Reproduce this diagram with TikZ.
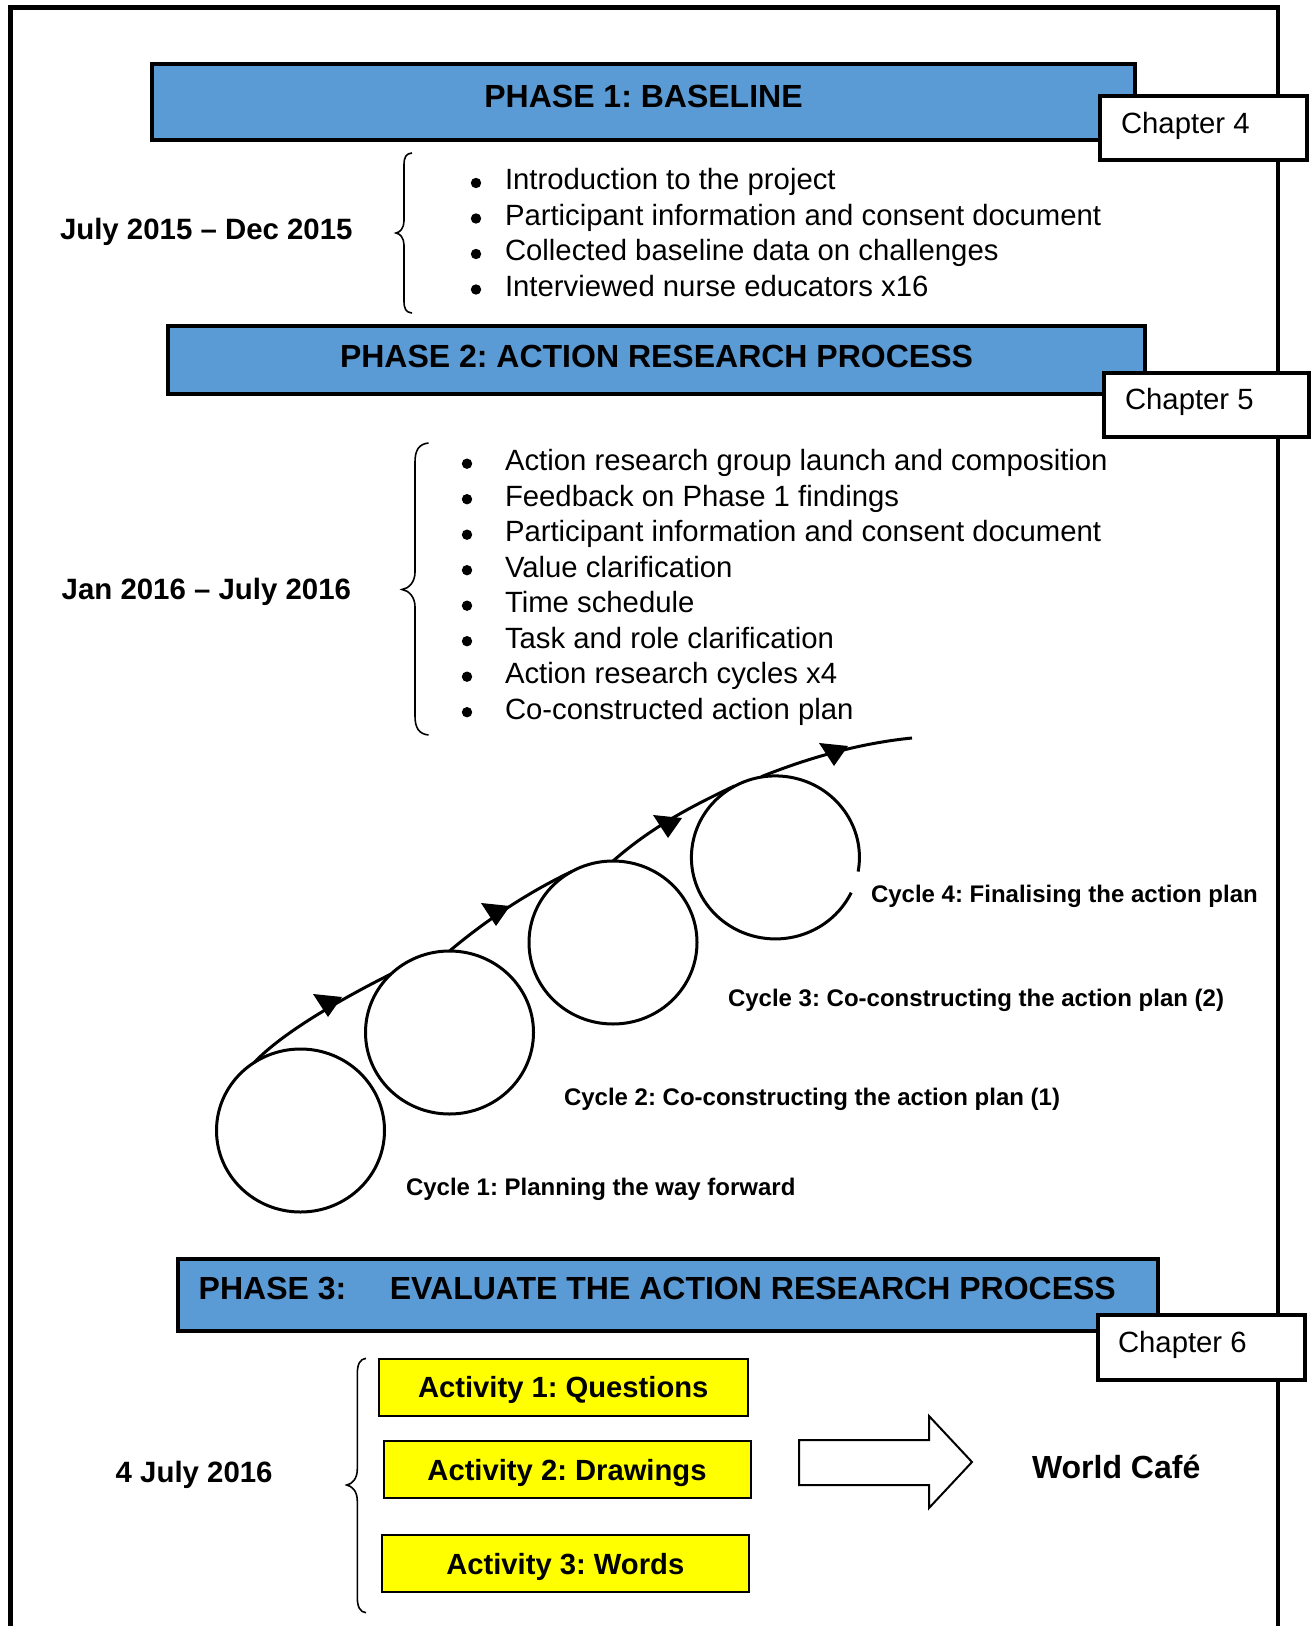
\documentclass[tikz,border=0pt]{standalone}
\usepackage{fontspec}
\setmainfont{Liberation Sans}
\usetikzlibrary{shapes.geometric}

\definecolor{phaseblue}{RGB}{91,155,213}
\definecolor{actyellow}{RGB}{255,255,0}

% font sizes
\newcommand\phasefont{\fontsize{16}{19}\selectfont\bfseries}
\newcommand\listfont{\fontsize{14.65}{17}\selectfont}
\newcommand\datefont{\fontsize{14.7}{17}\selectfont\bfseries}
\newcommand\cyclefont{\fontsize{12}{14}\selectfont\bfseries}
\newcommand\actfont{\fontsize{14.6}{17}\selectfont\bfseries}
\frenchspacing

\begin{document}
\begin{tikzpicture}[x=0.5pt,y=-0.5pt,
  txt/.style={inner sep=0pt, outer sep=0pt, text depth=0pt},
  phasetext/.style={txt, font=\phasefont, text height=11.46pt},
  listtext/.style={txt, font=\listfont, text height=10.49pt, anchor=west},
  datetext/.style={txt, font=\datefont, text height=10.52pt, anchor=west},
  cycletext/.style={txt, font=\cyclefont, text height=8.6pt, anchor=west},
  acttext/.style={txt, font=\actfont, text height=10.45pt},
  phasebox/.style={draw=black, fill=phaseblue, line width=2pt, inner sep=0pt, outer sep=0pt},
  chapbox/.style={draw=black, fill=white, line width=2pt, inner sep=0pt, outer sep=0pt},
  actbox/.style={draw=black, fill=actyellow, line width=1pt, inner sep=0pt, outer sep=0pt},
  frameline/.style={line width=2.15pt},
  bracel/.style={line width=0.8pt},
  cycline/.style={line width=1.5pt},
  cyc/.style={ellipse, draw, line width=1.5pt, minimum width=84pt, minimum height=81.5pt, inner sep=0pt, outer sep=0pt},
  bulletdot/.style={fill=black},
  arrowtip/.style={fill=black},
  blockarrow/.style={draw=black, fill=white, line width=1pt, line join=miter}
]
\useasboundingbox (0,0) rectangle (1314,1626);

% outer frame (open at the bottom)
\draw[frameline] (10.5,1640) -- (10.5,7.5) -- (1278,7.5) -- (1278,1640);

% ---------------- Phase 1 ----------------
\node[phasebox, minimum width=491.5pt, minimum height=37.65pt] (p1) at (643.5,102.15) {};
\node[phasetext] (p1t) at (643.5,96) {PHASE 1: BASELINE};
\node[chapbox, minimum width=103.35pt, minimum height=32.1pt] (ch4) at (1203.7,128.4) {};
\node[listtext] (ch4t) at (1121,123.2) {Chapter 4};

\node[datetext] (d1) at (60,228.5) {July 2015 – Dec 2015};
\draw[bracel] (412,153) .. controls (406,153.5) and (404,157) .. (404,165)
  -- (404,221) .. controls (404,228) and (400,232.5) .. (396,233)
  .. controls (400,233.5) and (404,238) .. (404,245)
  -- (404,301) .. controls (404,309) and (406,312.5) .. (412,313);

\foreach \t [count=\i from 0] in {Introduction to the project,
    Participant information and consent document,
    Collected baseline data on challenges,
    Interviewed nurse educators x16}{
  \fill[bulletdot] (476,{183+35.5*\i}) circle[radius=5.2];
  \node[listtext] (a\i) at (505,{179.5+35.5*\i}) {\t};
}

% ---------------- Phase 2 ----------------
\node[phasebox, minimum width=488.9pt, minimum height=33.75pt] (p2) at (656.5,359.95) {};
\node[phasetext] (p2t) at (656.5,355.8) {PHASE 2: ACTION RESEARCH PROCESS};
\node[chapbox, minimum width=102.65pt, minimum height=32.2pt] (ch5) at (1206.4,405) {};
\node[listtext] (ch5t) at (1125,398.8) {Chapter 5};

\node[datetext] (d2) at (61.7,589) {Jan 2016 – July 2016};
\draw[bracel] (428.5,443) .. controls (419,444) and (415,450) .. (415,462)
  -- (415,572) .. controls (415,582) and (409,588.5) .. (402,589.5)
  .. controls (409,590.5) and (415,597) .. (415,607)
  -- (415,716) .. controls (415,728) and (419,734) .. (428.5,735);

\foreach \t [count=\i from 0] in {Action research group launch and composition,
    Feedback on Phase 1 findings,
    Participant information and consent document,
    Value clarification,
    Time schedule,
    Task and role clarification,
    Action research cycles x4,
    Co-constructed action plan}{
  \fill[bulletdot] (467,{463.7+35.5*\i}) circle[radius=5.2];
  \node[listtext] (b\i) at (505,{460.2+35.5*\i}) {\t};
}

% action research cycles
\node[cyc] (c1) at (300.5,1130.5) {};
\node[cyc] (c2) at (449.5,1032.5) {};
\node[cyc] (c3) at (613,942.5) {};
\node[cyc, draw=none] (c4) at (775.5,857) {};
\draw[cycline] (c4.-10) arc[start angle=10, end angle=-334.4, x radius=84, y radius=81.5];
\coordinate (tail) at (912,738);

\draw[cycline] (c1.124) .. controls +(30,-32) and +(-40,20) .. (c2.135);
\draw[cycline] (c2.90) .. controls +(38,-32) and +(-42,20) .. (c3.120);
\draw[cycline] (c3.90) .. controls +(40,-35) and +(-42,20) .. (c4.120);
\draw[cycline] (c4.100) .. controls +(50,-20) and +(-50,5) .. (tail);

\coordinate (m1) at (327,1003);
\coordinate (m2) at (495,912);
\coordinate (m3) at (667,824);
\coordinate (m4) at (833,752);
\foreach \m in {m1,m2,m3,m4}{
  \fill[arrowtip] (\m) +(-14,-9) -- +(15,-6) -- +(1,14) -- cycle;
}

\node[cycletext] (l4) at (871,894) {Cycle 4: Finalising the action plan};
\node[cycletext] (l3) at (728,997.4) {Cycle 3: Co-constructing the action plan (2)};
\node[cycletext] (l2) at (564,1096.4) {Cycle 2: Co-constructing the action plan (1)};
\node[cycletext] (l1) at (406,1186.4) {Cycle 1: Planning the way forward};

% ---------------- Phase 3 ----------------
\node[phasebox, minimum width=489.85pt, minimum height=36pt] (p3) at (668.15,1295) {};
\node[phasetext, anchor=west] (p3t) at (198.7,1288) {PHASE 3:\hspace{21.8pt}EVALUATE THE ACTION RESEARCH PROCESS};
\node[chapbox, minimum width=103.5pt, minimum height=32.5pt] (ch6) at (1201,1347.2) {};
\node[listtext] (ch6t) at (1118,1342) {Chapter 6};

\node[datetext] (d3) at (115.7,1472.3) {4 July 2016};
\draw[bracel] (366,1358.3) .. controls (360,1359) and (357.3,1364) .. (357.3,1374)
  -- (357.3,1469) .. controls (357.3,1479) and (352,1484) .. (346.7,1485)
  .. controls (352,1486) and (357.3,1491) .. (357.3,1501)
  -- (357.3,1597) .. controls (357.3,1607) and (360,1612) .. (366,1612.7);

\node[actbox, minimum width=184.25pt, minimum height=28.5pt] (act1) at (563.25,1387.5) {};
\node[acttext] (act1t) at (act1.center) {Activity 1: Questions};
\node[actbox, minimum width=183.5pt, minimum height=28.35pt] (act2) at (567,1469.65) {};
\node[acttext] (act2t) at (act2.center) {Activity 2: Drawings};
\node[actbox, minimum width=183.75pt, minimum height=28.35pt] (act3) at (565.25,1563.65) {};
\node[acttext] (act3t) at (act3.center) {Activity 3: Words};

\draw[blockarrow] (799,1440) -- (929,1440) -- (929,1416) -- (972,1462)
  -- (929,1508) -- (929,1485) -- (799,1485) -- cycle;

\node[phasetext, anchor=west] (wc) at (1032,1467) {World Café};

\end{tikzpicture}
\end{document}
